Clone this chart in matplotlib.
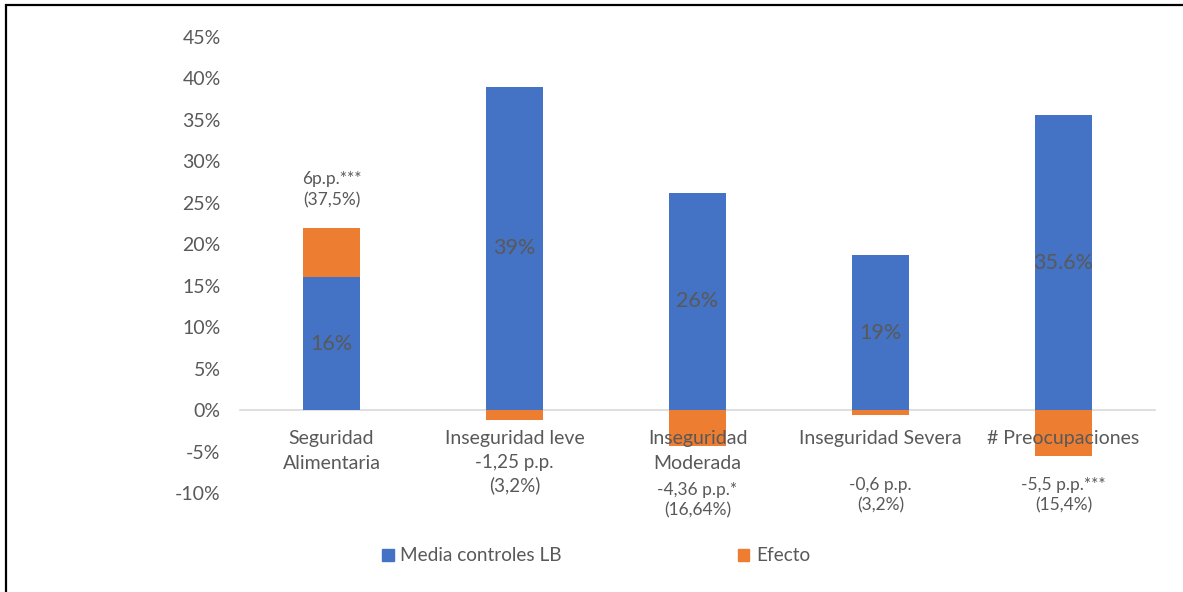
import matplotlib
matplotlib.use("Agg")
import matplotlib.pyplot as plt
from matplotlib.patches import Rectangle, Patch
from matplotlib.ticker import FuncFormatter

plt.rcParams['font.family'] = ['Lato', 'DejaVu Sans']

categories = ["Seguridad\nAlimentaria", "Inseguridad leve", "Inseguridad\nModerada",
              "Inseguridad Severa", "# Preocupaciones"]
media_controles = [16, 39, 26.2, 18.7, 35.6]
efecto = [6, -1.25, -4.36, -0.6, -5.5]
media_labels = ["16%", "39%", "26%", "19%", "35.6%"]
efecto_labels = ["6p.p.***\n(37,5%)", "-1,25 p.p.\n(3,2%)", "-4,36 p.p.*\n(16,64%)",
                 "-0,6 p.p.\n(3,2%)", "-5,5 p.p.***\n(15,4%)"]
efecto_label_y = [26.6, -7.7, -10.9, -10.3, -10.3]
efecto_label_size = [12.5, 13.5, 12.5, 12.5, 12.5]
efecto_label_ls = [1.45, 1.33, 1.3, 1.35, 1.35]
yticks = list(range(-10, 50, 5))

BLUE = "#4472C4"
ORANGE = "#ED7D31"
GREY = "#595959"

fig = plt.figure(figsize=(11.83, 5.92), dpi=100)
ax = fig.add_axes([240/1183, 1-493/592, (1155-240)/1183, (493-37)/592])

x = list(range(len(categories)))
w = 0.31
ax.bar(x, media_controles, width=w, color=BLUE, zorder=2)
bottoms = [m if e > 0 else 0 for m, e in zip(media_controles, efecto)]
ax.bar(x, efecto, width=w, bottom=bottoms, color=ORANGE, zorder=2)

for xi, m, lab in zip(x, media_controles, media_labels):
    ax.text(xi, m/2, lab, ha='center', va='center', fontsize=15.5, color=GREY, zorder=3)

for xi, ly, lab, fs, ls in zip(x, efecto_label_y, efecto_labels, efecto_label_size, efecto_label_ls):
    ax.text(xi, ly, lab, ha='center', va='center', fontsize=fs, color=GREY,
            linespacing=ls, zorder=3)

# category labels just under the zero line
for xi, cat in zip(x, categories):
    ax.annotate(cat, xy=(xi, 0), xytext=(0, -14.5), textcoords='offset points',
                ha='center', va='top', fontsize=14, color=GREY,
                linespacing=1.55, zorder=4, annotation_clip=False)

ax.set_xlim(-0.5, 4.5)
ax.set_ylim(-10, 45)
ax.set_yticks(yticks)
ax.yaxis.set_major_formatter(FuncFormatter(lambda v, p: f"{int(v)}%"))
ax.tick_params(axis='y', length=0, labelsize=14, labelcolor=GREY, pad=14)
ax.set_xticks(x)
ax.set_xticklabels([])
ax.tick_params(axis='x', length=0)
for s in ['left', 'right', 'top']:
    ax.spines[s].set_visible(False)
ax.spines['bottom'].set_position(('data', 0))
ax.spines['bottom'].set_color('#D9D9D9')
ax.spines['bottom'].set_linewidth(1.2)
ax.spines['bottom'].set_zorder(1)
ax.yaxis.set_zorder(3)

handles = [Patch(color=BLUE), Patch(color=ORANGE)]
fig.legend(handles, ["Media controles LB", "Efecto"], loc='center',
           bbox_to_anchor=(0.504, 0.061), ncol=2, frameon=False,
           fontsize=13.7, labelcolor=GREY, handlelength=0.6, handleheight=0.6,
           handletextpad=0.35, columnspacing=9.25)

# outer frame
fig.patches.append(Rectangle((6/1183, -0.1), 1.2, 1-5/592+0.1, transform=fig.transFigure,
                             fill=False, edgecolor='black', linewidth=1.6))

fig.savefig("out.png", dpi=100)
